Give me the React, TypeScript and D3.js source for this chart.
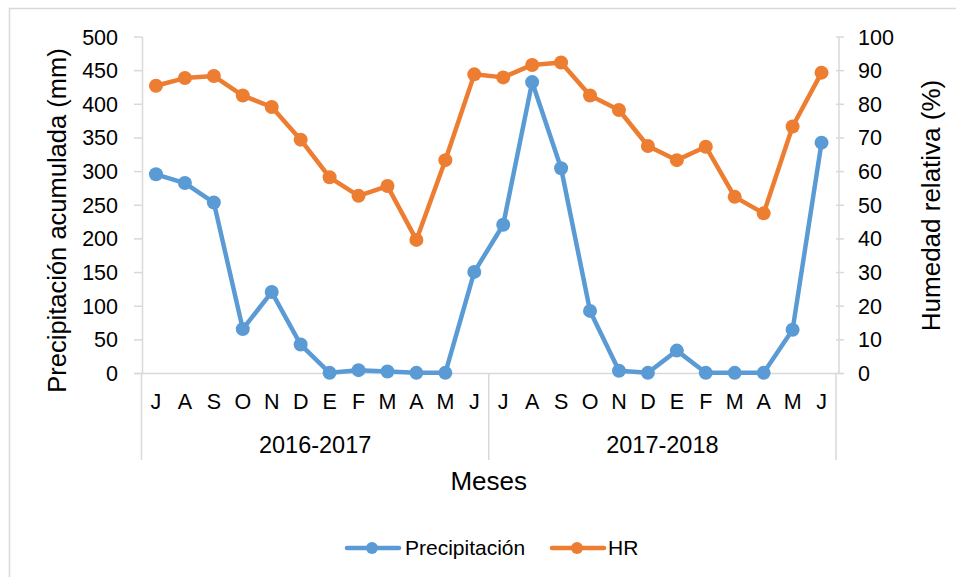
import React from "react";
import * as d3 from "d3";

const MONTHS = ["J", "A", "S", "O", "N", "D", "E", "F", "M", "A", "M", "J"];
const SEASONS = ["2016-2017", "2017-2018"];
const PRECIPITACION = [296, 283, 254, 66, 121, 43, 1, 5, 3, 1, 1, 151, 221, 433, 305, 93, 4, 1, 34, 1, 1, 1, 65, 343];
const HR = [85.5, 87.8, 88.4, 82.6, 79.2, 69.5, 58.3, 52.8, 55.7, 39.7, 63.4, 88.9, 88, 91.7, 92.4, 82.6, 78.3, 67.6, 63.4, 67.4, 52.5, 47.6, 73.4, 89.4];
const LEFT_TICKS = d3.range(0, 501, 50);
const RIGHT_TICKS = d3.range(0, 101, 10);

const W = 956;
const H = 577;
const PLOT = { left: 141.5, right: 836, top: 37, bottom: 373.5 };
const FONT = "'Liberation Sans', Arial, sans-serif";
const BLUE = "#5B9BD5";
const ORANGE = "#ED7D31";
const AXIS = "#D9D9D9";

export default function App() {
  const keys = d3.range(SEASONS.length * MONTHS.length);
  const x = d3.scaleBand<number>().domain(keys).range([PLOT.left, PLOT.right]);
  const yL = d3.scaleLinear().domain([0, 500]).range([PLOT.bottom, PLOT.top]);
  const yR = d3.scaleLinear().domain([0, 100]).range([PLOT.bottom, PLOT.top]);
  const cx = (i: number) => (x(i) as number) + x.bandwidth() / 2;

  const precLine = d3.line<number>().x((_, i) => cx(i)).y((d) => yL(d))(PRECIPITACION) || "";
  const hrLine = d3.line<number>().x((_, i) => cx(i)).y((d) => yR(d))(HR) || "";

  const sepX = d3.range(SEASONS.length + 1).map((s) =>
    s < SEASONS.length ? (x(s * MONTHS.length) as number) : PLOT.right
  );

  return (
    <svg width={W} height={H} style={{ position: "absolute", left: 0, top: 0 }} fontFamily={FONT}>
      <rect x={0} y={0} width={W} height={H} fill="white" />
      <rect x={9.5} y={8.5} width={W + 10} height={H + 10} fill="none" stroke={AXIS} strokeWidth={1.5} />

      {/* left axis */}
      <line x1={142.5} x2={142.5} y1={PLOT.top} y2={PLOT.bottom} stroke={AXIS} strokeWidth={1.5} />
      {LEFT_TICKS.map((t) => (
        <g key={"l" + t}>
          <line x1={134} x2={142.5} y1={yL(t)} y2={yL(t)} stroke={AXIS} strokeWidth={1.5} />
          <text x={118} y={yL(t)} dy="0.35em" textAnchor="end" fontSize={21.5} fill="#000">
            {t}
          </text>
        </g>
      ))}

      {/* right axis */}
      <line x1={839} x2={839} y1={PLOT.top} y2={PLOT.bottom} stroke={AXIS} strokeWidth={1.5} />
      {RIGHT_TICKS.map((t) => (
        <g key={"r" + t}>
          <line x1={836} x2={844} y1={yR(t)} y2={yR(t)} stroke={AXIS} strokeWidth={1.5} />
          <text x={858} y={yR(t)} dy="0.35em" textAnchor="start" fontSize={21.5} fill="#000">
            {t}
          </text>
        </g>
      ))}

      {/* category axis */}
      <line x1={135} x2={843} y1={PLOT.bottom} y2={PLOT.bottom} stroke={AXIS} strokeWidth={1.5} />
      {sepX.map((sx, i) => (
        <line key={"s" + i} x1={sx} x2={sx} y1={PLOT.bottom} y2={460} stroke={AXIS} strokeWidth={1.5} />
      ))}
      {keys.map((k) => (
        <text key={"m" + k} x={cx(k)} y={409} textAnchor="middle" fontSize={21.5} fill="#000">
          {MONTHS[k % MONTHS.length]}
        </text>
      ))}
      {SEASONS.map((s, i) => (
        <text key={s} x={(sepX[i] + sepX[i + 1]) / 2} y={453} textAnchor="middle" fontSize={23.5} fill="#000">
          {s}
        </text>
      ))}

      {/* titles */}
      <text x={(PLOT.left + PLOT.right) / 2} y={490} textAnchor="middle" fontSize={26} fill="#000">
        Meses
      </text>
      <text transform="translate(66,220.5) rotate(-90)" textAnchor="middle" fontSize={25.5} fill="#000">
        Precipitación acumulada (mm)
      </text>
      <text transform="translate(940,205.5) rotate(-90)" textAnchor="middle" fontSize={26} fill="#000">
        Humedad relativa (%)
      </text>

      {/* series */}
      <path d={precLine} fill="none" stroke={BLUE} strokeWidth={4.5} strokeLinejoin="round" strokeLinecap="round" />
      {PRECIPITACION.map((d, i) => (
        <circle key={"p" + i} cx={cx(i)} cy={yL(d)} r={7} fill={BLUE} />
      ))}
      <path d={hrLine} fill="none" stroke={ORANGE} strokeWidth={4.5} strokeLinejoin="round" strokeLinecap="round" />
      {HR.map((d, i) => (
        <circle key={"h" + i} cx={cx(i)} cy={yR(d)} r={7} fill={ORANGE} />
      ))}

      {/* legend */}
      <g>
        <line x1={347} x2={399} y1={548} y2={548} stroke={BLUE} strokeWidth={4.5} strokeLinecap="round" />
        <circle cx={372} cy={548} r={6} fill={BLUE} />
        <text x={405} y={555} fontSize={21} fill="#000">Precipitación</text>
        <line x1={552} x2={604} y1={548} y2={548} stroke={ORANGE} strokeWidth={4.5} strokeLinecap="round" />
        <circle cx={577} cy={548} r={6} fill={ORANGE} />
        <text x={608} y={555} fontSize={21} fill="#000">HR</text>
      </g>
    </svg>
  );
}
